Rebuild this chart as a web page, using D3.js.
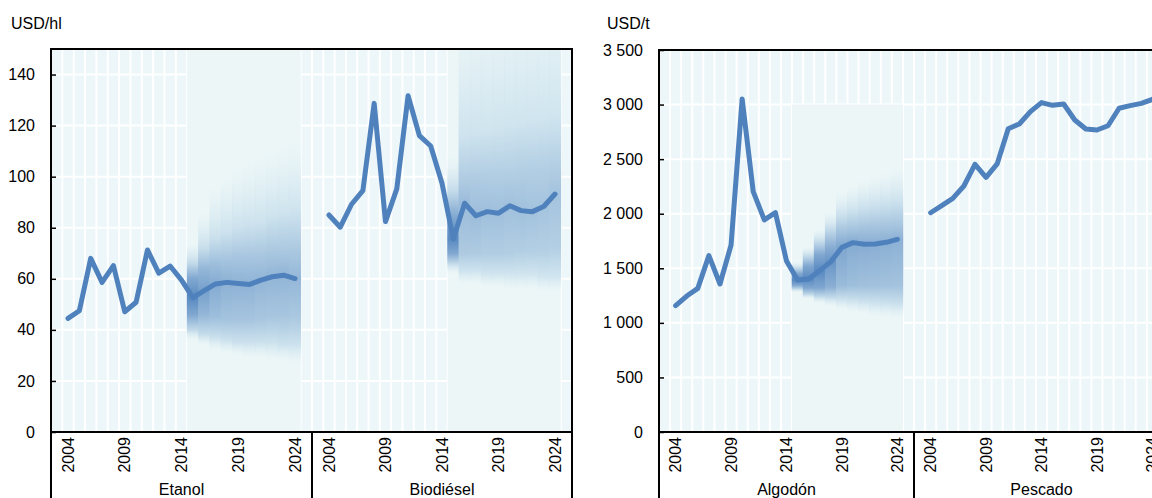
<!DOCTYPE html>
<html>
<head>
<meta charset="utf-8">
<script src="https://cdn.jsdelivr.net/npm/d3@7"></script>
<style>
  body { margin: 0; background: #fff; }
  text { font-family: "Liberation Sans", Arial, sans-serif; font-size: 16px; fill: #000; }
</style>
</head>
<body>
<svg id="chart"></svg>
<script>
// Years on each panel and the labelled ones
const years = [2004, 2005, 2006, 2007, 2008, 2009, 2010, 2011, 2012, 2013, 2014,
               2015, 2016, 2017, 2018, 2019, 2020, 2021, 2022, 2023, 2024];
const yearTicks = [2004, 2009, 2014, 2019, 2024];
const fanYears = [2015, 2016, 2017, 2018, 2019, 2020, 2021, 2022, 2023, 2024];

// Y ticks
const ticksBio = [0, 20, 40, 60, 80, 100, 120, 140];
const ticksAgri = [0, 500, 1000, 1500, 2000, 2500, 3000, 3500];

// Price series (median path)
const etanol = [44.5, 47.5, 68.0, 58.6, 65.2, 47.1, 50.8, 71.3, 62.2, 65.0, 59.5,
                52.6, 55.4, 58.0, 58.6, 58.2, 57.8, 59.5, 60.8, 61.4, 60.1];
const biodiesel = [85.0, 80.2, 89.2, 94.5, 128.7, 82.4, 95.2, 131.7, 116.1, 112.0, 97.4,
                   75.6, 89.6, 84.7, 86.3, 85.7, 88.6, 86.7, 86.3, 88.3, 93.2];
const algodon = [1157, 1246, 1316, 1616, 1356, 1713, 3051, 2202, 1943, 2010, 1567,
                 1393, 1402, 1478, 1561, 1692, 1735, 1720, 1722, 1738, 1765];
const pescado = [2009, 2074, 2141, 2254, 2453, 2333, 2456, 2779, 2822, 2935, 3018,
                 2993, 3005, 2859, 2776, 2767, 2806, 2966, 2990, 3011, 3048];

// Projection spread per fanYear: [q02, q10, q25, q75, q90, q98]
const etanolFan = [
  [36, 40, 46, 60, 66, 74], [34, 38, 46, 64, 72, 86], [32, 37, 45, 66, 76, 96],
  [31, 36, 44, 67, 78, 100], [30, 35, 44, 68, 80, 104], [29, 35, 44, 68, 81, 106],
  [29, 35, 44, 69, 82, 108], [28, 35, 45, 70, 84, 110], [28, 34, 45, 70, 85, 112],
  [27, 34, 45, 71, 86, 114]
];
const biodieselFan = [
  [62, 66, 70, 84, 94, 108], [58, 63, 70, 98, 116, 165], [58, 63, 70, 99, 117, 168],
  [57, 62, 70, 100, 118, 170], [57, 62, 70, 100, 119, 172], [56, 62, 70, 101, 120, 174],
  [56, 62, 71, 102, 121, 175], [56, 62, 71, 103, 122, 176], [55, 61, 71, 104, 123, 178],
  [55, 61, 72, 105, 124, 180]
];
const algodonFan = [
  [1280, 1310, 1345, 1450, 1500, 1560], [1220, 1260, 1320, 1520, 1610, 1700],
  [1180, 1240, 1320, 1620, 1740, 1860], [1150, 1230, 1330, 1700, 1860, 2020],
  [1120, 1220, 1340, 1800, 1980, 2200], [1100, 1210, 1340, 1830, 2020, 2260],
  [1080, 1200, 1340, 1850, 2050, 2310], [1060, 1190, 1340, 1860, 2070, 2350],
  [1050, 1180, 1340, 1870, 2090, 2380], [1040, 1170, 1340, 1880, 2110, 2420]
];

const width = 1152;
const height = 498;
const bottom = 432;
const bg = "#edf6f8";
const blue = "#4f81bd";

const fmt = d3.formatLocale({ decimal: ",", thousands: " ", grouping: [3], currency: ["", ""] }).format(",");

const svg = d3.select("#chart").attr("width", width).attr("height", height);
const defs = svg.append("defs");

const charts = [
  { unit: "USD/hl", unitX: 11, x0: 51, top: 49, max: 150, ticks: ticksBio,
    panels: [
      { name: "Etanol", x0: 51, x1: 312, values: etanol, fan: etanolFan, fanTop: 150 },
      { name: "Biodiésel", x0: 312, x1: 572, values: biodiesel, fan: biodieselFan, fanTop: 150 }
    ] },
  { unit: "USD/t", unitX: 607, x0: 659, top: 50, max: 3500, ticks: ticksAgri,
    panels: [
      { name: "Algodón", x0: 659, x1: 914, values: algodon, fan: algodonFan, fanTop: 3000 },
      { name: "Pescado", x0: 914, x1: 1169, values: pescado, fan: null }
    ] }
];

const col = d3.interpolateRgb("#dbedf3", "#4a7ebb");

let gid = 0;
charts.forEach(c => {
  const yScale = d3.scaleLinear().domain([0, c.max]).range([bottom, c.top]);
  const xEnd = c.panels[c.panels.length - 1].x1;
  const g = svg.append("g");

  // plot background
  g.append("rect")
    .attr("x", c.x0).attr("y", c.top)
    .attr("width", xEnd - c.x0).attr("height", bottom - c.top)
    .attr("fill", bg);

  // horizontal grid
  g.selectAll(".hgrid")
    .data(c.ticks.filter(t => t > 0 && t < c.max))
    .enter().append("line")
    .attr("x1", c.x0).attr("x2", xEnd)
    .attr("y1", d => yScale(d)).attr("y2", d => yScale(d))
    .attr("stroke", "#fff").attr("stroke-width", 2);

  c.panels.forEach((p, pi) => {
    const xScale = d3.scalePoint().domain(years).range([p.x0, p.x1]).padding(1.5);
    const step = xScale.step();

    // vertical grid on year boundaries
    const edges = years.map(y => xScale(y) - step / 2).concat([xScale(2024) + step / 2]);
    if (pi > 0) edges.unshift(p.x0);
    g.selectAll(null)
      .data(edges)
      .enter().append("line")
      .attr("x1", d => d).attr("x2", d => d)
      .attr("y1", c.top).attr("y2", bottom)
      .attr("stroke", "#fff").attr("stroke-width", 2);

    // projection fan
    if (p.fan) {
      const fg = g.append("g");
      fg.append("rect")
        .attr("x", xScale(fanYears[0]) - step / 2)
        .attr("width", xScale(fanYears[fanYears.length - 1]) - xScale(fanYears[0]) + step)
        .attr("y", yScale(p.fanTop))
        .attr("height", bottom - yScale(p.fanTop))
        .attr("fill", "#ecf6f7");

      fanYears.forEach((yr, i) => {
        const q = p.fan[i];
        const med = p.values[years.indexOf(yr)];
        const spread = yScale(q[2]) - yScale(q[3]);
        const T = Math.min(0.9, 32 / spread);
        const yLo = yScale(q[0]), yHi = yScale(q[5]);
        const off = v => (yLo - yScale(v)) / (yLo - yHi);
        const stops = [
          [q[0], 0, 0], [q[1], 0.2 * T, 1], [q[2], 0.7 * T, 1], [med, T, 1],
          [q[3], 0.7 * T, 1], [q[4], 0.2 * T, 1], [q[5], 0, 0]
        ];
        const id = "fan" + (gid++);
        const grad = defs.append("linearGradient")
          .attr("id", id)
          .attr("gradientUnits", "userSpaceOnUse")
          .attr("x1", 0).attr("x2", 0).attr("y1", yLo).attr("y2", yHi);
        grad.selectAll("stop").data(stops).enter().append("stop")
          .attr("offset", d => off(d[0]))
          .attr("stop-color", d => col(d[1]))
          .attr("stop-opacity", d => d[2]);
        const top = Math.max(yHi, yScale(p.fanTop));
        const bot = Math.min(yLo, bottom);
        fg.append("rect")
          .attr("x", xScale(yr) - step / 2 - 0.4)
          .attr("width", step + 0.8)
          .attr("y", top)
          .attr("height", bot - top)
          .attr("fill", `url(#${id})`);
      });
    }

    // median / history line
    const line = d3.line().x((d, i) => xScale(years[i])).y(d => yScale(d));
    g.append("path")
      .datum(p.values)
      .attr("d", line)
      .attr("fill", "none")
      .attr("stroke", blue)
      .attr("stroke-width", 5)
      .attr("stroke-linejoin", "round")
      .attr("stroke-linecap", "round");

    // year labels
    g.selectAll(null)
      .data(yearTicks)
      .enter().append("text")
      .attr("transform", d => `translate(${xScale(d)},437) rotate(-90)`)
      .attr("dy", "0.35em")
      .attr("text-anchor", "end")
      .text(d => d);

    // panel name
    g.append("text")
      .attr("x", (p.x0 + p.x1) / 2)
      .attr("y", 495)
      .attr("text-anchor", "middle")
      .text(p.name);

    // separator below axis
    if (pi > 0) {
      g.append("line")
        .attr("x1", p.x0).attr("x2", p.x0)
        .attr("y1", bottom).attr("y2", height)
        .attr("stroke", "#000").attr("stroke-width", 2);
    }
  });

  // y axis
  const yAxis = d3.axisLeft(yScale).tickValues(c.ticks).tickSize(-5).tickPadding(16).tickFormat(fmt);
  const ya = g.append("g").attr("transform", `translate(${c.x0},0)`).call(yAxis);
  ya.select(".domain").remove();
  ya.selectAll("line").attr("stroke", "#000").attr("stroke-width", 1.5);
  ya.selectAll("text").attr("font-size", 16).attr("font-family", null);

  // frame
  const frame = g.append("g").attr("stroke", "#000").attr("stroke-width", 2);
  frame.append("line").attr("x1", c.x0).attr("x2", c.x0).attr("y1", c.top - 1).attr("y2", height);
  frame.append("line").attr("x1", c.x0).attr("x2", xEnd).attr("y1", c.top).attr("y2", c.top);
  frame.append("line").attr("x1", c.x0).attr("x2", xEnd).attr("y1", bottom).attr("y2", bottom);
  frame.append("line").attr("x1", xEnd).attr("x2", xEnd).attr("y1", c.top - 1).attr("y2", height);

  // unit label
  g.append("text").attr("x", c.unitX).attr("y", 29).text(c.unit);
});
</script>
</body>
</html>
